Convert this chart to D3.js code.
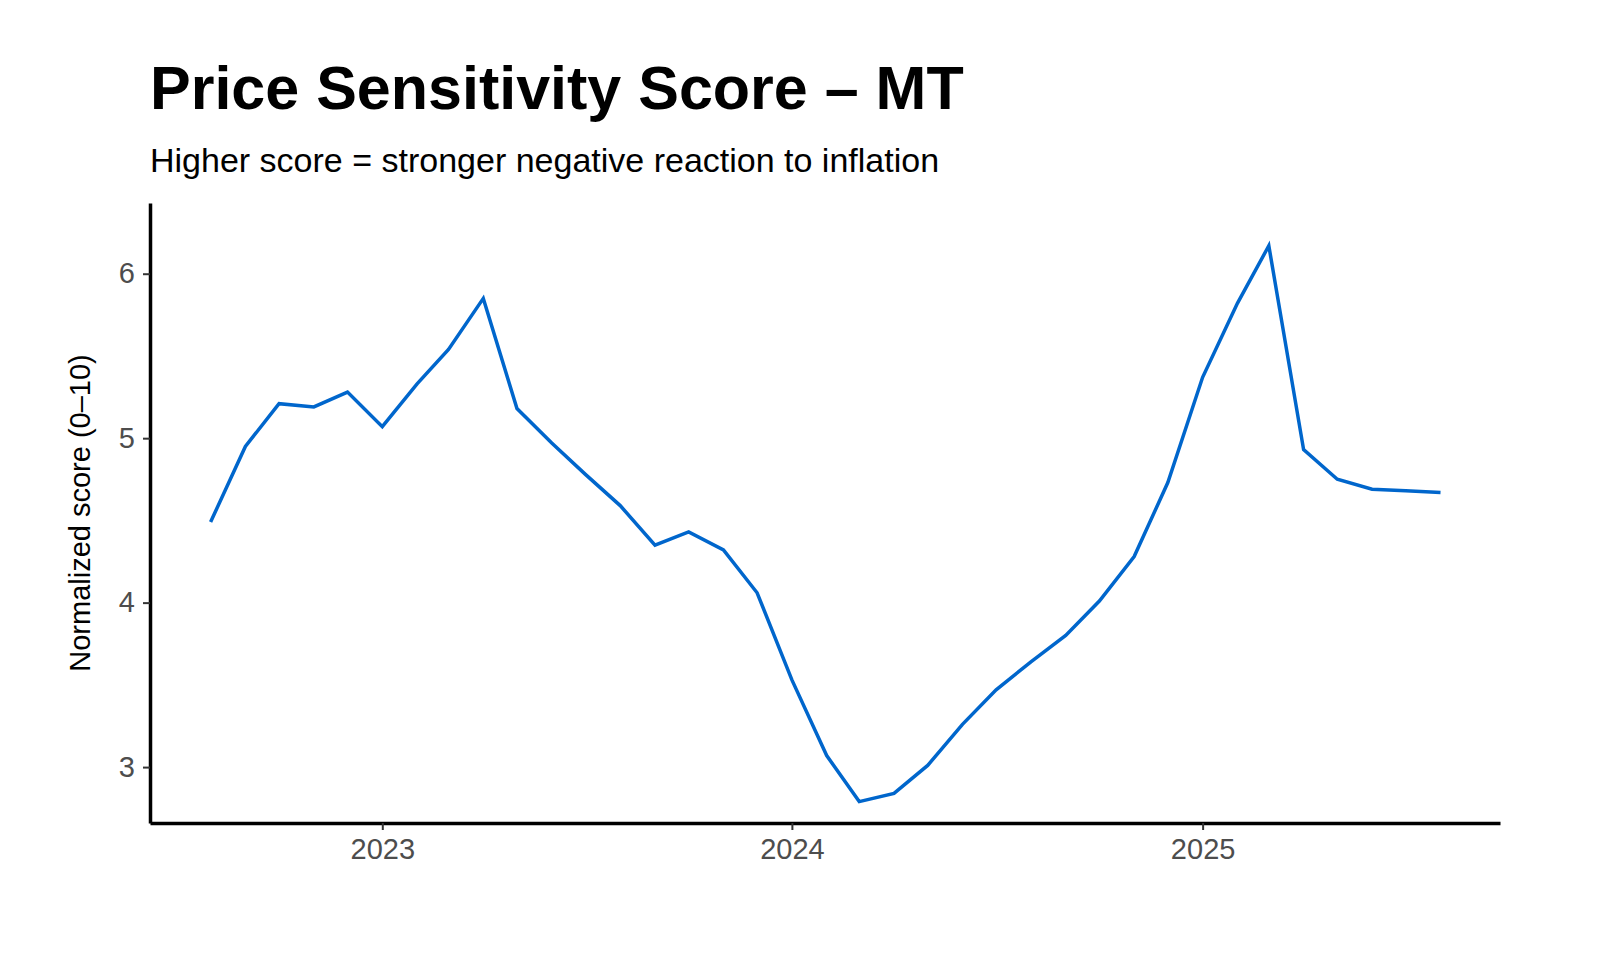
<!DOCTYPE html>
<html><head><meta charset="utf-8">
<script src="https://cdn.jsdelivr.net/npm/d3@7"></script>
<style>body{margin:0;background:#fff}svg{font-family:"Liberation Sans",Arial,sans-serif}</style>
</head><body><div id="chart"></div>
<script>
// monthly scores, Aug 2022 .. Aug 2025
var startMonth = [2022, 7];
var scores = [4.49,4.95,5.21,5.19,5.28,5.07,5.33,5.54,5.85,5.18,4.97,4.78,4.59,4.35,4.43,4.32,4.06,
  3.53,3.07,2.79,2.84,3.01,3.26,3.47,3.64,3.80,4.01,4.28,4.73,5.37,5.82,6.17,4.93,4.75,4.69,4.68,4.67];
var yTicks = [3,4,5,6];
var xTickYears = [2023,2024,2025];

var width = 1600, height = 960,
    margin = {top: 203, right: 100, bottom: 137, left: 150};

var data = scores.map(function(v,i){ return {date: new Date(startMonth[0], startMonth[1]+i, 1), value: v}; });

var svg = d3.select('#chart').append('svg').attr('width', width).attr('height', height);

var x = d3.scaleTime()
    .domain([new Date(2022,5,8), new Date(2025,8,23)])
    .range([margin.left, width - margin.right]);
var y = d3.scaleLinear().domain([2.66, 6.43]).range([height - margin.bottom, margin.top]);

svg.append('text').attr('x',150).attr('y',109).attr('font-size',61).attr('font-weight','bold').text('Price Sensitivity Score – MT');
svg.append('text').attr('x',150).attr('y',172).attr('font-size',34).text('Higher score = stronger negative reaction to inflation');

var gx = svg.append('g').attr('transform','translate(0,'+(height-margin.bottom)+')')
  .call(d3.axisBottom(x).tickValues(xTickYears.map(function(d){return new Date(d,0,1);})).tickFormat(d3.timeFormat('%Y')).tickSize(7).tickPadding(8).tickSizeOuter(0));
var gy = svg.append('g').attr('transform','translate('+margin.left+',0)')
  .call(d3.axisLeft(y).tickValues(yTicks).tickFormat(d3.format('d')).tickSize(7).tickPadding(8).tickSizeOuter(0));
[gx,gy].forEach(function(g){
  g.select('.domain').attr('stroke','#000').attr('stroke-width',3.5);
  g.selectAll('.tick line').attr('stroke','#333').attr('stroke-width',2);
  g.selectAll('.tick text').attr('font-size',29).attr('fill','#4d4d4d').attr('font-family','"Liberation Sans",Arial,sans-serif');
});

svg.append('text').attr('transform','translate(90,'+((margin.top+height-margin.bottom)/2)+') rotate(-90)')
  .attr('text-anchor','middle').attr('font-size',29).text('Normalized score (0–10)');

svg.append('path').datum(data).attr('fill','none').attr('stroke','#0066cc').attr('stroke-width',3.5)
  .attr('d', d3.line().x(function(d){return x(d.date);}).y(function(d){return y(d.value);}));
</script></body></html>
